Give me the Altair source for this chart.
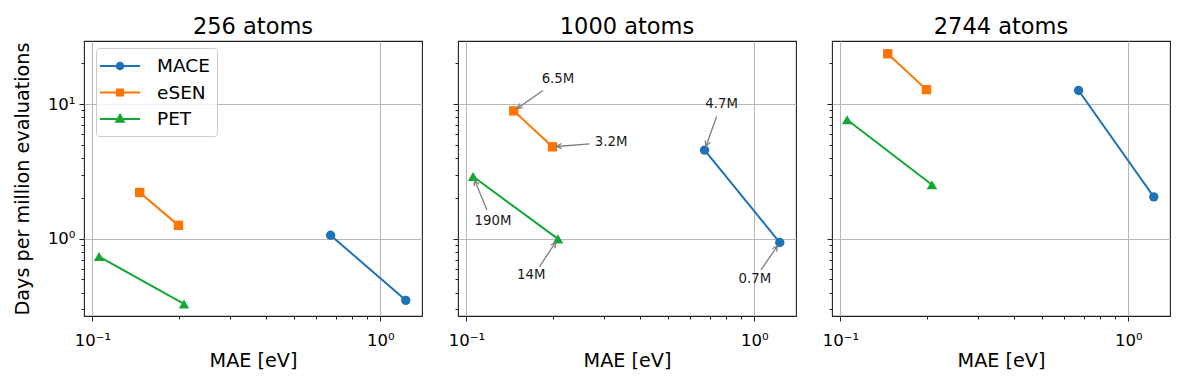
import math
import altair as alt
import pandas as pd

# ---------------- data ----------------
models = ["MACE", "eSEN", "PET"]
colors = ["#1f72b8", "#ff7500", "#12a834"]
marker_shapes = ["circle", "square", "triangle-up"]
panel_titles = ["256 atoms", "1000 atoms", "2744 atoms"]

mace_mae = [0.672, 1.226]
esen_mae = [0.146, 0.199]
pet_mae = [0.1055, 0.208]

mace_days = [[1.065, 0.35], [4.55, 0.94], [12.6, 2.05]]
esen_days = [[2.21, 1.26], [8.9, 4.82], [23.6, 12.8]]
pet_days = [[0.74, 0.329], [2.9, 1.0], [7.65, 2.52]]

ann_labels = ["6.5M", "3.2M", "190M", "14M", "4.7M", "0.7M"]
ann_model = ["eSEN", "eSEN", "PET", "PET", "MACE", "MACE"]
ann_index = [0, 1, 0, 1, 0, 1]
ann_text_x = [0.208, 0.318, 0.1237, 0.168, 0.770, 1.005]
ann_text_y = [15.4, 5.19, 1.367, 0.538, 10.05, 0.502]
ann_tail_x = [0.1845, 0.268, 0.1179, 0.1795, 0.7396, 1.055]
ann_tail_y = [12.6, 5.07, 1.64, 0.623, 8.09, 0.589]

x_domain = [0.0935, 1.396]
y_domain = [0.268, 29.36]
x_ticks = [0.1, 0.2, 0.3, 0.4, 0.5, 0.6, 0.7, 0.8, 0.9, 1.0]
y_ticks = [0.3, 0.4, 0.5, 0.6, 0.7, 0.8, 0.9, 1, 2, 3, 4, 5, 6, 7, 8, 9, 10, 20]

# ---------------- layout / style ----------------
W, H = 338, 275
FONT = "DejaVu Sans"
mae = {"MACE": mace_mae, "eSEN": esen_mae, "PET": pet_mae}
days = {"MACE": mace_days, "eSEN": esen_days, "PET": pet_days}

rows = []
for p, title in enumerate(panel_titles):
    for m in models:
        for k in range(2):
            rows.append({"panel": title, "model": m, "mae": mae[m][k],
                         "days": days[m][p][k], "order": k})
df = pd.DataFrame(rows)

DEC = "abs(log(datum.value)/LN10 - round(log(datum.value)/LN10)) < 0.001"
LABEL = ("abs(datum.value - 0.1) < 0.001 ? '10\u207b\u00b9' : "
         "(abs(datum.value - 1) < 0.001 ? '10\u2070' : "
         "(abs(datum.value - 10) < 0.001 ? '10\u00b9' : ''))")


def x_enc():
    return alt.X("mae:Q", scale=alt.Scale(type="log", domain=x_domain, nice=False, zero=False),
                 axis=alt.Axis(values=x_ticks, labelExpr=LABEL, labelOverlap=False, labelFlush=False,
                               grid=True, labelPadding=11,
                               gridOpacity={"condition": {"test": DEC, "value": 1}, "value": 0},
                               tickSize={"condition": {"test": DEC, "value": 5}, "value": 3},
                               title="MAE [eV]", titlePadding=3))


def y_enc(first):
    ax = dict(values=y_ticks, labelExpr=LABEL, labelOverlap=False, labelFlush=False, grid=True,
              gridOpacity={"condition": {"test": DEC, "value": 1}, "value": 0},
              tickSize={"condition": {"test": DEC, "value": 5}, "value": 3})
    if first:
        ax.update(title="Days per million evaluations", titlePadding=14.5)
    else:
        ax.update(title=None, labels=False)
    return alt.Y("days:Q", scale=alt.Scale(type="log", domain=y_domain, nice=False, zero=False),
                 axis=alt.Axis(**ax))


def to_px(x, y):
    lx0, lx1 = math.log10(x_domain[0]), math.log10(x_domain[1])
    ly0, ly1 = math.log10(y_domain[0]), math.log10(y_domain[1])
    return ((math.log10(x) - lx0) / (lx1 - lx0) * W,
            H - (math.log10(y) - ly0) / (ly1 - ly0) * H)


def from_px(X, Y):
    lx0, lx1 = math.log10(x_domain[0]), math.log10(x_domain[1])
    ly0, ly1 = math.log10(y_domain[0]), math.log10(y_domain[1])
    return (10 ** (lx0 + X / W * (lx1 - lx0)), 10 ** (ly0 + (H - Y) / H * (ly1 - ly0)))


legend_paths = [
    "M -2 0 L 2 0 M 0.33 0 A 0.33 0.33 0 1 1 -0.33 0 A 0.33 0.33 0 1 1 0.33 0 Z",
    "M -2 0 L 2 0 M -0.31 -0.31 L 0.31 -0.31 L 0.31 0.31 L -0.31 0.31 Z",
    "M -2 0 L 2 0 M 0 -0.42 L 0.38 0.27 L -0.38 0.27 Z",
]
ARROW = "M -0.52 1.06 L 0 0 L 0.52 1.06"


def panel(p):
    title = panel_titles[p]
    base = alt.Chart(df).transform_filter(alt.datum.panel == title)
    layers = []
    for m, c in zip(models, colors):
        layers.append(
            base.transform_filter(alt.datum.model == m).mark_line(strokeWidth=2, color=c).encode(
                x=x_enc(), y=y_enc(p == 0), order="order:Q"))
    for m, shp, c in zip(models, marker_shapes, colors):
        layers.append(
            base.transform_filter(alt.datum.model == m)
            .mark_point(shape=shp, filled=True, color=c,
                        size=88 if shp != "triangle-up" else 110, opacity=1)
            .encode(x="mae:Q", y="days:Q"))
    if p == 0:
        layers.append(
            base.mark_point(filled=True, opacity=1, size=0).encode(
                x="mae:Q", y="days:Q",
                color=alt.Color("model:N", scale=alt.Scale(domain=models, range=colors),
                                legend=alt.Legend(title=None, orient="none", legendX=12, legendY=7,
                                                  labelFont=FONT, labelFontSize=18.5, labelColor="black",
                                                  symbolSize=400, symbolStrokeWidth=2, symbolOpacity=1,
                                                  symbolOffset=6, labelOffset=26, padding=7,
                                                  rowPadding=5.5, strokeColor="#cccccc",
                                                  fillColor="rgba(255,255,255,0.85)",
                                                  cornerRadius=3)),
                stroke=alt.Stroke("model:N", scale=alt.Scale(domain=models, range=colors)),
                shape=alt.Shape("model:N", scale=alt.Scale(domain=models, range=legend_paths))))
    if p == 1:
        arows = []
        for i, lab in enumerate(ann_labels):
            m = ann_model[i]
            tx, ty = mae[m][ann_index[i]], days[m][1][ann_index[i]]
            TX, TY = to_px(tx, ty)
            AX, AY = to_px(ann_tail_x[i], ann_tail_y[i])
            dx, dy = AX - TX, AY - TY
            d = math.hypot(dx, dy)
            PX, PY = TX + 4 * dx / d, TY + 4 * dy / d
            tipx, tipy = from_px(PX, PY)
            ang = math.degrees(math.atan2(PX - AX, -(PY - AY))) % 360
            arows.append({"label": lab, "tx": ann_text_x[i], "ty": ann_text_y[i],
                          "ax": ann_tail_x[i], "ay": ann_tail_y[i],
                          "px": tipx, "py": tipy, "angle": ang})
        adf = pd.DataFrame(arows)
        ab = alt.Chart(adf)
        layers.append(ab.mark_rule(color="#808080", strokeWidth=1.3).encode(
            x="ax:Q", y="ay:Q", x2="px:Q", y2="py:Q"))
        layers.append(ab.mark_point(shape=ARROW, filled=False, size=100, color="#808080",
                                    strokeWidth=1.3, opacity=1).encode(
            x="px:Q", y="py:Q", angle=alt.Angle("angle:Q", scale=None)))
        layers.append(ab.mark_text(font=FONT, fontSize=13.3, color="#1a1a1a",
                                   align="center", baseline="middle").encode(
            x="tx:Q", y="ty:Q", text="label:N"))
    return alt.layer(*layers).properties(
        width=W, height=H,
        title=alt.Title(title, font=FONT, fontSize=22.5, fontWeight="normal", color="black", offset=3))


chart = alt.hconcat(panel(0), panel(1), panel(2), spacing=36, bounds="flush").resolve_scale(
    x="independent", y="independent"
).properties(
    padding={"left": 5, "top": 6, "right": 5, "bottom": 5}
).configure_view(stroke="#222222", strokeWidth=1.1).configure_axis(
    domain=False, labelFont=FONT, labelFontSize=16.5, labelColor="black", labelPadding=4,
    titleFont=FONT, titleFontSize=19.2, titleFontWeight="normal", titleColor="black",
    tickColor="#222222", tickWidth=1, gridColor="#b8b8b8", gridWidth=1.1
)

chart.save("out.html", embed_options={"renderer": "svg", "actions": False})
